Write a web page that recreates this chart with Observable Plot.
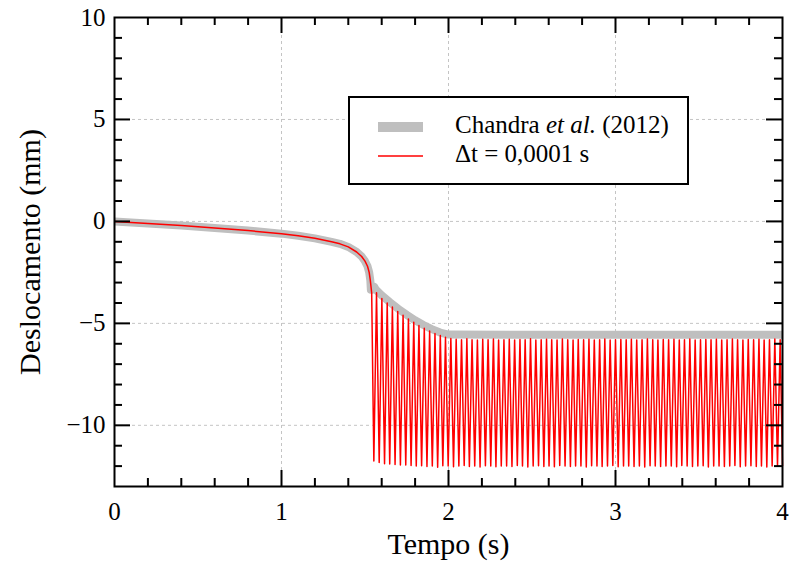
<!DOCTYPE html>
<html>
<head>
<meta charset="utf-8">
<script src="https://cdn.jsdelivr.net/npm/d3@7"></script>
<script src="https://cdn.jsdelivr.net/npm/@observablehq/plot@0.6"></script>
<style>
  html, body { margin: 0; padding: 0; background: white; }
  #wrap { position: relative; width: 790px; height: 570px; }
  #legend { position: absolute; left: 0; top: 0; pointer-events: none; }
</style>
</head>
<body>
<div id="wrap"></div>
<script>
// ---------- data ----------
const xTickValues = [0, 1, 2, 3, 4];
const yTickValues = [10, 5, 0, -5, -10];
const xGridValues = [1, 2, 3];
const yGridValues = [5, 0, -5, -10];
const xMajorInner = [1, 2, 3];
const xMinorInner = [0.2, 0.4, 0.6, 0.8, 1.2, 1.4, 1.6, 1.8, 2.2, 2.4, 2.6, 2.8, 3.2, 3.4, 3.6, 3.8];
const yMajorInner = [5, 0, -5, -10];
const yMinorInner = [9, 8, 7, 6, 4, 3, 2, 1, -1, -2, -3, -4, -6, -7, -8, -9, -11, -12];

// Chandra et al. (2012) reference curve
const chandraT = [0, 0.2, 0.4, 0.6, 0.8, 1.0, 1.1, 1.2, 1.3, 1.35, 1.4, 1.45, 1.48, 1.5, 1.515, 1.525, 1.532, 1.535, 1.545, 1.555, 1.565, 1.6, 1.65, 1.7, 1.75, 1.8, 1.85, 1.9, 1.95, 2.0, 2.5, 3.0, 3.5, 4.0];
const chandraY = [0, -0.1, -0.2, -0.32, -0.45, -0.6, -0.7, -0.83, -1.0, -1.1, -1.25, -1.5, -1.72, -1.95, -2.2, -2.5, -2.9, -3.35, -3.35, -3.2, -3.35, -3.63, -3.97, -4.29, -4.58, -4.85, -5.08, -5.28, -5.45, -5.55, -5.56, -5.56, -5.56, -5.56];

// Δt = 0,0001 s : smooth part
const redSmoothT = [0, 0.2, 0.4, 0.6, 0.8, 1.0, 1.1, 1.2, 1.3, 1.35, 1.4, 1.45, 1.48, 1.5, 1.515, 1.525, 1.532, 1.54];
const redSmoothY = [0, -0.1, -0.2, -0.32, -0.45, -0.6, -0.7, -0.83, -1.0, -1.1, -1.25, -1.5, -1.72, -1.95, -2.2, -2.5, -2.9, -3.5];

// Δt = 0,0001 s : oscillation troughs and peaks
const troughT = [1.553, 1.585, 1.617, 1.648, 1.680, 1.712, 1.744, 1.776, 1.807, 1.839,
  1.871, 1.903, 1.935, 1.966, 1.998, 2.030, 2.062, 2.094, 2.125, 2.157,
  2.189, 2.221, 2.253, 2.284, 2.316, 2.348, 2.380, 2.412, 2.443, 2.475,
  2.507, 2.539, 2.571, 2.602, 2.634, 2.666, 2.698, 2.730, 2.761, 2.793,
  2.825, 2.857, 2.889, 2.920, 2.952, 2.984, 3.016, 3.048, 3.079, 3.111,
  3.143, 3.175, 3.207, 3.238, 3.270, 3.302, 3.334, 3.366, 3.397, 3.429,
  3.461, 3.493, 3.525, 3.556, 3.588, 3.620, 3.652, 3.684, 3.715, 3.747,
  3.779, 3.811, 3.843, 3.874, 3.906, 3.938, 3.970, 4.0];
const troughY = [-11.75, -11.82, -11.88, -11.9, -11.92, -11.95, -11.95, -11.97, -12.0, -11.98,
  -12.02, -12.0, -12.05, -11.98, -12.0, -12.03, -12.0, -11.97, -12.02, -12.0,
  -12.04, -11.98, -12.0, -12.03, -11.99, -12.0, -12.02, -11.97, -12.0, -12.04,
  -12.0, -11.98, -12.02, -12.0, -12.03, -11.97, -12.0, -12.02, -11.99, -12.0,
  -12.04, -11.98, -12.0, -12.02, -12.0, -11.97, -12.03, -12.0, -11.99, -12.02,
  -12.0, -12.04, -11.98, -12.0, -12.02, -11.99, -12.0, -12.03, -11.97, -12.0,
  -12.02, -12.0, -11.98, -12.04, -12.0, -11.99, -12.02, -12.0, -11.97, -12.03,
  -12.0, -11.98, -12.02, -12.0, -12.04, -11.99, -12.0, -12.0];
const peakT = [1.569, 1.601, 1.633, 1.664, 1.696, 1.728, 1.760, 1.792, 1.823, 1.855,
  1.887, 1.919, 1.951, 1.982, 2.014, 2.046, 2.078, 2.110, 2.141, 2.173,
  2.205, 2.237, 2.269, 2.300, 2.332, 2.364, 2.396, 2.428, 2.459, 2.491,
  2.523, 2.555, 2.587, 2.618, 2.650, 2.682, 2.714, 2.746, 2.777, 2.809,
  2.841, 2.873, 2.905, 2.936, 2.968, 3.000, 3.032, 3.064, 3.095, 3.127,
  3.159, 3.191, 3.223, 3.254, 3.286, 3.318, 3.350, 3.382, 3.413, 3.445,
  3.477, 3.509, 3.541, 3.572, 3.604, 3.636, 3.668, 3.700, 3.731, 3.763,
  3.795, 3.827, 3.859, 3.890, 3.922, 3.954, 3.986];
const peakY = [-3.5, -3.78, -4.0, -4.2, -4.42, -4.6, -4.78, -4.95, -5.1, -5.24,
  -5.38, -5.5, -5.6, -5.68, -5.74, -5.78, -5.8, -5.76, -5.8, -5.82,
  -5.78, -5.8, -5.77, -5.82, -5.8, -5.78, -5.81, -5.79, -5.8, -5.76,
  -5.82, -5.8, -5.78, -5.8, -5.81, -5.77, -5.8, -5.82, -5.79, -5.8,
  -5.78, -5.81, -5.8, -5.77, -5.82, -5.8, -5.79, -5.8, -5.78, -5.81,
  -5.8, -5.77, -5.8, -5.82, -5.79, -5.8, -5.78, -5.81, -5.8, -5.77,
  -5.82, -5.8, -5.79, -5.8, -5.78, -5.81, -5.8, -5.77, -5.8, -5.82,
  -5.79, -5.8, -5.78, -5.81, -5.8, -5.77, -5.8];

const seriesNames = ["Chandra", "et al.", "(2012)", "\u0394t = 0,0001 s"];

// ---------- build tables ----------
const chandra = chandraT.map((t, i) => ({t, y: chandraY[i]}));
const red = redSmoothT.map((t, i) => ({t, y: redSmoothY[i]}));
for (let i = 0; i < troughT.length; i++) {
  red.push({t: troughT[i], y: troughY[i]});
  if (i < peakT.length) red.push({t: peakT[i], y: peakY[i]});
}

const FONT = "'Liberation Serif', 'Times New Roman', serif";
const frameH = 570 - 17 - 84;
const frameW = 790 - 114 - 8;
const minus = d => d < 0 ? "\u2212" + Math.abs(d) : String(d);

const plot = Plot.plot({
  width: 790,
  height: 570,
  marginLeft: 114,
  marginRight: 8,
  marginTop: 17,
  marginBottom: 84,
  x: {domain: [0, 4], label: null},
  y: {domain: [-13, 10], label: null},
  style: {fontFamily: FONT, background: "white", color: "black"},
  marks: [
    Plot.ruleX(xGridValues, {x: d => d, stroke: "#c4c4c4", strokeWidth: 1, strokeDasharray: "3,3"}),
    Plot.ruleY(yGridValues, {y: d => d, stroke: "#c4c4c4", strokeWidth: 1, strokeDasharray: "3,3"}),
    Plot.line(chandra, {x: "t", y: "y", stroke: "#bfbfbf", strokeWidth: 8, strokeLinejoin: "round", strokeLinecap: "butt"}),
    Plot.line(red, {x: "t", y: "y", stroke: "#ff0000", strokeWidth: 1.5, strokeLinejoin: "round", strokeLinecap: "butt"}),
    // inner ticks: bottom & top
    Plot.tickX(xMajorInner, {x: d => d, insetTop: frameH - 16, stroke: "black", strokeWidth: 2}),
    Plot.tickX(xMinorInner, {x: d => d, insetTop: frameH - 8, stroke: "black", strokeWidth: 2}),
    Plot.tickX(xMajorInner, {x: d => d, insetBottom: frameH - 16, stroke: "black", strokeWidth: 2}),
    Plot.tickX(xMinorInner, {x: d => d, insetBottom: frameH - 8, stroke: "black", strokeWidth: 2}),
    // inner ticks: left & right
    Plot.tickY(yMajorInner, {y: d => d, insetRight: frameW - 16, stroke: "black", strokeWidth: 2}),
    Plot.tickY(yMinorInner, {y: d => d, insetRight: frameW - 8, stroke: "black", strokeWidth: 2}),
    Plot.tickY(yMajorInner, {y: d => d, insetLeft: frameW - 16, stroke: "black", strokeWidth: 2}),
    Plot.tickY(yMinorInner, {y: d => d, insetLeft: frameW - 8, stroke: "black", strokeWidth: 2}),
    Plot.frame({stroke: "black", strokeWidth: 2}),
    Plot.axisX(xTickValues, {tickSize: 0, tickPadding: 16, fontSize: 25, label: null, tickFormat: minus}),
    Plot.axisY(yTickValues, {tickSize: 0, tickPadding: 9, fontSize: 25, label: null, tickFormat: minus}),
    Plot.text(["Tempo (s)"], {text: d => d, frameAnchor: "bottom", dy: 67, lineAnchor: "bottom", textAnchor: "middle", fontSize: 30}),
    Plot.text(["Deslocamento (mm)"], {text: d => d, frameAnchor: "left", dx: -75, rotate: -90, lineAnchor: "bottom", textAnchor: "middle", fontSize: 30})
  ]
});

const wrap = document.getElementById("wrap");
wrap.appendChild(plot);

// ---------- legend (overlay) ----------
const ns = "http://www.w3.org/2000/svg";
const lg = document.createElementNS(ns, "svg");
lg.setAttribute("id", "legend");
lg.setAttribute("width", 790);
lg.setAttribute("height", 570);
lg.innerHTML = `
  <rect x="349" y="97" width="339" height="87" fill="white" stroke="black" stroke-width="2"/>
  <line x1="378" x2="423" y1="127" y2="127" stroke="#bfbfbf" stroke-width="10"/>
  <line x1="378" x2="423" y1="156" y2="156" stroke="#ff0000" stroke-width="1.5"/>
  <text x="455" y="133" font-family="${FONT}" font-size="25" fill="black">${seriesNames[0]} <tspan font-style="italic">${seriesNames[1]}</tspan> ${seriesNames[2]}</text>
  <text x="455" y="162" font-family="${FONT}" font-size="25" fill="black">${seriesNames[3]}</text>
`;
wrap.appendChild(lg);
</script>
</body>
</html>
